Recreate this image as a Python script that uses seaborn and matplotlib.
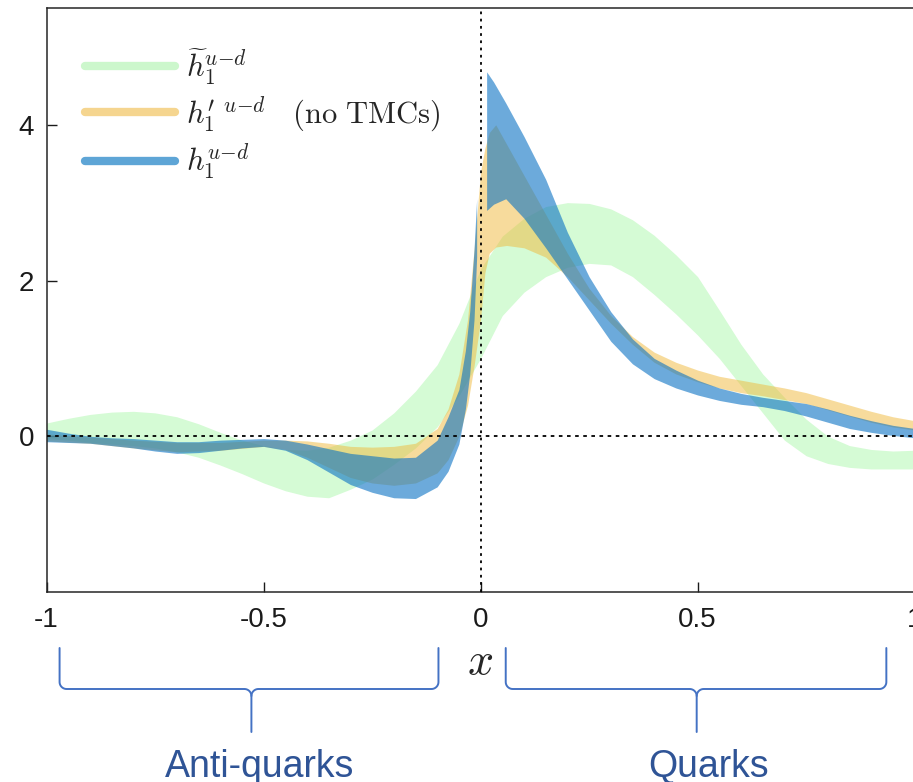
import matplotlib
matplotlib.use("Agg")
import matplotlib.pyplot as plt
from matplotlib.lines import Line2D
import numpy as np
import pandas as pd
import seaborn as sns

# h1~ (green band)
tilde_x = [-1.0, -0.95, -0.9, -0.85, -0.8, -0.75, -0.7, -0.65, -0.6, -0.55, -0.5,
           -0.45, -0.4, -0.35, -0.3, -0.25, -0.2, -0.15, -0.1, -0.05, 0.0,
           0.05, 0.1, 0.15, 0.2, 0.25, 0.3, 0.35, 0.4, 0.45, 0.5,
           0.55, 0.6, 0.65, 0.7, 0.75, 0.8, 0.85, 0.9, 0.95, 1.0]
tilde_hi = [0.17, 0.23, 0.28, 0.31, 0.32, 0.30, 0.25, 0.16, 0.05, -0.05, -0.12,
            -0.17, -0.18, -0.14, -0.05, 0.08, 0.30, 0.58, 0.92, 1.45, 2.15,
            2.57, 2.8, 2.95, 3.0, 2.99, 2.92, 2.78, 2.58, 2.33, 2.05,
            1.62, 1.18, 0.8, 0.5, 0.22, 0.0, -0.12, -0.17, -0.19, -0.18]
tilde_lo = [-0.03, -0.05, -0.08, -0.1, -0.12, -0.15, -0.2, -0.27, -0.37, -0.48, -0.6,
            -0.7, -0.77, -0.79, -0.68, -0.55, -0.36, -0.15, 0.12, 0.52, 1.0,
            1.55, 1.85, 2.05, 2.17, 2.22, 2.2, 2.05, 1.82, 1.57, 1.3,
            1.0, 0.65, 0.3, -0.05, -0.25, -0.35, -0.4, -0.42, -0.42, -0.42]

# h1' no TMCs (orange band)
prime_x = [-1.0, -0.9, -0.8, -0.7, -0.6, -0.5, -0.45, -0.4, -0.35, -0.3, -0.25, -0.2,
           -0.15, -0.1, -0.075, -0.05, -0.03, -0.015, 0.0, 0.01, 0.02, 0.035, 0.06, 0.1,
           0.15, 0.2, 0.25, 0.3, 0.35, 0.4, 0.45, 0.5, 0.55, 0.6,
           0.65, 0.7, 0.75, 0.8, 0.85, 0.9, 0.95, 1.0]
prime_hi = [0.03, -0.01, -0.05, -0.08, -0.08, -0.05, -0.05, -0.06, -0.09, -0.13, -0.14, -0.13,
            -0.09, 0.1, 0.35, 0.8, 1.5, 2.4, 3.4, 3.7, 3.9, 4.0, 3.75, 3.35,
            2.85, 2.35, 1.9, 1.55, 1.28, 1.08, 0.95, 0.85, 0.77, 0.72,
            0.67, 0.62, 0.56, 0.48, 0.4, 0.32, 0.25, 0.2]
prime_lo = [-0.06, -0.09, -0.15, -0.2, -0.18, -0.13, -0.17, -0.27, -0.4, -0.53, -0.6, -0.63,
            -0.6, -0.47, -0.3, 0.0, 0.4, 0.9, 1.5, 2.1, 2.35, 2.43, 2.45, 2.42,
            2.3, 2.05, 1.75, 1.45, 1.18, 0.95, 0.8, 0.7, 0.62, 0.56,
            0.52, 0.47, 0.42, 0.34, 0.26, 0.18, 0.12, 0.08]

# h1 (blue band), anti-quark side
h1_anti_x = [-1.0, -0.95, -0.9, -0.85, -0.8, -0.75, -0.7, -0.65, -0.6, -0.55, -0.5,
             -0.45, -0.4, -0.35, -0.3, -0.25, -0.2, -0.15, -0.1,
             -0.075, -0.05, -0.035, -0.025, -0.015, -0.009]
h1_anti_hi = [0.09, 0.04, 0.0, -0.02, -0.03, -0.05, -0.07, -0.07, -0.05, -0.04, -0.03,
              -0.05, -0.1, -0.16, -0.22, -0.25, -0.28, -0.27, -0.05,
              0.25, 0.6, 1.1, 1.6, 2.4, 3.05]
h1_anti_lo = [-0.07, -0.08, -0.09, -0.12, -0.15, -0.19, -0.22, -0.21, -0.18, -0.15, -0.13,
              -0.18, -0.3, -0.46, -0.62, -0.72, -0.79, -0.8, -0.65,
              -0.45, -0.1, 0.35, 0.8, 1.5, 2.3]
# h1 (blue band), quark side
h1_q_x = [0.014, 0.03, 0.058, 0.1, 0.15, 0.2, 0.25, 0.3, 0.35, 0.4, 0.45,
          0.5, 0.55, 0.6, 0.65, 0.7, 0.75, 0.8, 0.85, 0.9, 0.95, 1.0]
h1_q_hi = [4.68, 4.55, 4.28, 3.85, 3.3, 2.62, 2.05, 1.6, 1.25, 1.0, 0.85,
           0.72, 0.62, 0.55, 0.5, 0.46, 0.42, 0.35, 0.27, 0.2, 0.14, 0.1]
h1_q_lo = [2.9, 2.98, 3.05, 2.8, 2.42, 2.02, 1.62, 1.22, 0.93, 0.74, 0.62,
           0.53, 0.46, 0.41, 0.38, 0.33, 0.26, 0.18, 0.1, 0.05, 0.01, -0.02]

labels = [r"$\widetilde{h}_1^{u{-}d}$",
          r"$h_1^{\prime\;\;u{-}d}\quad\mathrm{(no\ TMCs)}$",
          r"$h_1^{u{-}d}$"]
brace_text = ["Anti-quarks", "Quarks"]


def band_frame(x, lo, hi, seg="a"):
    return pd.DataFrame({"x": list(x) + list(x), "y": list(lo) + list(hi), "seg": seg})


sns.set_style("ticks")
plt.rcParams["font.family"] = ["Liberation Sans", "DejaVu Sans"]
plt.rcParams["mathtext.fontset"] = "cm"

fig = plt.figure(figsize=(9.13, 7.82), dpi=100)
ax = fig.add_axes([0.051, 0.243, 0.9507, 0.7468])

green, orange, blue = "#96f596", "#f0b93a", "#0a72c4"

sns.lineplot(data=band_frame(tilde_x, tilde_lo, tilde_hi), x="x", y="y",
             errorbar=("pi", 100), color=green, lw=0,
             err_kws={"alpha": 0.4, "linewidth": 0}, ax=ax)
sns.lineplot(data=band_frame(prime_x, prime_lo, prime_hi), x="x", y="y",
             errorbar=("pi", 100), color=orange, lw=0,
             err_kws={"alpha": 0.5, "linewidth": 0}, ax=ax)
blue_df = pd.concat([band_frame(h1_anti_x, h1_anti_lo, h1_anti_hi, "anti"),
                     band_frame(h1_q_x, h1_q_lo, h1_q_hi, "quark")])
sns.lineplot(data=blue_df, x="x", y="y", hue="seg",
             palette={"anti": blue, "quark": blue}, errorbar=("pi", 100), lw=0,
             err_kws={"alpha": 0.6, "linewidth": 0}, legend=False, ax=ax)

ax.axhline(0, color="black", lw=1.3, ls=(0, (2, 2.5)), zorder=5)
ax.axvline(0, color="black", lw=1.3, ls=(0, (1.5, 2.5)), zorder=5)

ax.set_xlim(-1, 1)
ax.set_ylim(-2, 5.5)
ax.set_xticks([-1, -0.5, 0, 0.5, 1])
ax.set_xticklabels(["-1", "-0.5", "0", "0.5", "1"])
ax.set_yticks([0, 2, 4])
ax.tick_params(direction="in", length=7.5, width=1, labelsize=20, colors="#1a1a1a")
ax.tick_params(axis="x", pad=11)
ax.tick_params(axis="y", pad=9)
for s in ax.spines.values():
    s.set_color("#262626")
    s.set_linewidth(1.1)
ax.set_ylabel("")
ax.set_xlabel(r"$x$", fontsize=33, labelpad=5)

handles = [Line2D([], [], color=c, lw=6) for c in ["#ccf7cc", "#f5d58f", "#5ea5d6"]]
ax.legend(handles, labels, loc="upper left", bbox_to_anchor=(85 / 913, 1 - 46 / 782),
          bbox_transform=fig.transFigure, frameon=False, fontsize=22,
          handlelength=2.95, handletextpad=0.35, labelspacing=0.25, borderpad=0,
          borderaxespad=0)

# braces under the x axis, in data x and pixel y
bax = fig.add_axes([0.051, 0, 0.9507, 1])
bax.set_xlim(-1, 1)
bax.set_ylim(782, 0)
bax.axis("off")
px = 434.0  # pixels per unit x


def brace(x0, x1, xm, ytop=648, ymid=689, ytip=732, r=7):
    t = np.linspace(0, np.pi / 2, 12)
    rx = r / px
    xs = [x0] + list(x0 + rx - rx * np.cos(t)) + list(xm - rx + rx * np.sin(t)) + [xm]
    ys = [ytop] + list(ymid - r + r * np.sin(t)) + list(ymid + r - r * np.cos(t)) + [ytip]
    xr = [xm] + list(xm + rx - rx * np.cos(t)) + list(x1 - rx + rx * np.sin(t)) + [x1]
    yr = [ymid + r] + list(ymid + r - r * np.sin(t)) + list(ymid - r + r * np.cos(t)) + [ytop]
    bax.plot(xs, ys, color="#4472c4", lw=1.4)
    bax.plot(xr, yr, color="#4472c4", lw=1.4)


brace(-0.97, -0.097, -0.528)
brace(0.058, 0.935, 0.498)
bax.text(-0.509, 777, brace_text[0], ha="center", va="baseline", fontsize=27, color="#2f5496")
bax.text(0.525, 777, brace_text[1], ha="center", va="baseline", fontsize=27, color="#2f5496")

fig.savefig("out.png", dpi=100)
